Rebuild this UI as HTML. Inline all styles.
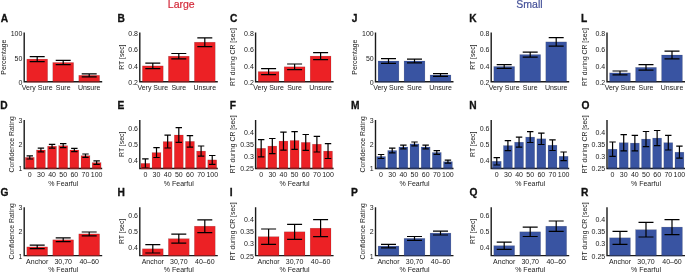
<!DOCTYPE html>
<html><head><meta charset="utf-8"><style>
html,body{margin:0;padding:0;background:#fff;}
svg{display:block;}
#w{width:685px;height:273px;will-change:transform;}
text{font-family:"Liberation Sans",sans-serif;font-size:7.0px;fill:#1a1a1a;}
text.L{font-weight:bold;font-size:10.2px;fill:#111;stroke:#111;stroke-width:0.3px;}
text.T{font-size:10.5px;}
</style></head><body>
<div id="w"><svg width="685" height="273" viewBox="0 0 685 273">
<rect width="685" height="273" fill="#fff"/>
<text class="T" x="181.3" y="7.8" text-anchor="middle" style="fill:#d42a3a;stroke:#d42a3a;stroke-width:0.2px">Large</text>
<text class="T" x="529.5" y="7.7" text-anchor="middle" style="fill:#465299;stroke:#465299;stroke-width:0.2px">Small</text>
<g><rect x="26.8" y="59.1" width="20.8" height="22.7" fill="#ec2125" stroke="#000" stroke-opacity="0.22" stroke-width="0.5"/><rect x="52.8" y="62.5" width="20.8" height="19.3" fill="#ec2125" stroke="#000" stroke-opacity="0.22" stroke-width="0.5"/><rect x="78.8" y="75.3" width="20.8" height="6.5" fill="#ec2125" stroke="#000" stroke-opacity="0.22" stroke-width="0.5"/><path d="M37.2 56.6V61.6M29.71 56.6H44.69M29.71 61.6H44.69" stroke="#000" stroke-width="1.2" fill="none"/><path d="M63.2 60.4V64.6M55.71 60.4H70.69M55.71 64.6H70.69" stroke="#000" stroke-width="1.2" fill="none"/><path d="M89.2 73.8V76.8M81.71 73.8H96.69M81.71 76.8H96.69" stroke="#000" stroke-width="1.2" fill="none"/><path d="M24.2 32.5V81.8H102.2" stroke="#1a1a1a" stroke-width="1.4" fill="none"/><rect x="26.8" y="81.1" width="20.8" height="1.4" fill="#ec2125" fill-opacity="0.5"/><rect x="52.8" y="81.1" width="20.8" height="1.4" fill="#ec2125" fill-opacity="0.5"/><rect x="78.8" y="81.1" width="20.8" height="1.4" fill="#ec2125" fill-opacity="0.5"/><text x="22.4" y="85.15" text-anchor="end">0</text><text x="22.4" y="60.5" text-anchor="end">50</text><text x="22.4" y="35.85" text-anchor="end">100</text><text x="37.2" y="90.4" text-anchor="middle">Very Sure</text><text x="63.2" y="90.4" text-anchor="middle">Sure</text><text x="89.2" y="90.4" text-anchor="middle">Unsure</text><text transform="translate(6.1 57.15) rotate(-90)" text-anchor="middle" style="font-size:6.85px">Percentage</text><text class="L" x="0.65" y="21.9">A</text></g>
<g><rect x="142.4" y="65.9" width="20.8" height="15.9" fill="#ec2125" stroke="#000" stroke-opacity="0.22" stroke-width="0.5"/><rect x="168.4" y="56.2" width="20.8" height="25.6" fill="#ec2125" stroke="#000" stroke-opacity="0.22" stroke-width="0.5"/><rect x="194.4" y="42.2" width="20.8" height="39.6" fill="#ec2125" stroke="#000" stroke-opacity="0.22" stroke-width="0.5"/><path d="M152.8 63.2V68.6M145.31 63.2H160.29M145.31 68.6H160.29" stroke="#000" stroke-width="1.2" fill="none"/><path d="M178.8 53.5V58.9M171.31 53.5H186.29M171.31 58.9H186.29" stroke="#000" stroke-width="1.2" fill="none"/><path d="M204.8 37.8V46.6M197.31 37.8H212.29M197.31 46.6H212.29" stroke="#000" stroke-width="1.2" fill="none"/><path d="M139.8 32.5V81.8H217.8" stroke="#1a1a1a" stroke-width="1.4" fill="none"/><rect x="142.4" y="81.1" width="20.8" height="1.4" fill="#ec2125" fill-opacity="0.5"/><rect x="168.4" y="81.1" width="20.8" height="1.4" fill="#ec2125" fill-opacity="0.5"/><rect x="194.4" y="81.1" width="20.8" height="1.4" fill="#ec2125" fill-opacity="0.5"/><text x="138" y="85.15" text-anchor="end">0.2</text><text x="138" y="68.72" text-anchor="end">0.4</text><text x="138" y="52.28" text-anchor="end">0.6</text><text x="138" y="35.85" text-anchor="end">0.8</text><text x="152.8" y="90.4" text-anchor="middle">Very Sure</text><text x="178.8" y="90.4" text-anchor="middle">Sure</text><text x="204.8" y="90.4" text-anchor="middle">Unsure</text><text transform="translate(124 57.15) rotate(-90)" text-anchor="middle" style="font-size:6.85px">RT [sec]</text><text class="L" x="117.52" y="21.9">B</text></g>
<g><rect x="258.2" y="71.6" width="20.8" height="10.2" fill="#ec2125" stroke="#000" stroke-opacity="0.22" stroke-width="0.5"/><rect x="284.2" y="66.8" width="20.8" height="15" fill="#ec2125" stroke="#000" stroke-opacity="0.22" stroke-width="0.5"/><rect x="310.2" y="56.1" width="20.8" height="25.7" fill="#ec2125" stroke="#000" stroke-opacity="0.22" stroke-width="0.5"/><path d="M268.6 68.6V74.6M261.11 68.6H276.09M261.11 74.6H276.09" stroke="#000" stroke-width="1.2" fill="none"/><path d="M294.6 64V69.6M287.11 64H302.09M287.11 69.6H302.09" stroke="#000" stroke-width="1.2" fill="none"/><path d="M320.6 52.6V59.6M313.11 52.6H328.09M313.11 59.6H328.09" stroke="#000" stroke-width="1.2" fill="none"/><path d="M255.6 32.5V81.8H333.6" stroke="#1a1a1a" stroke-width="1.4" fill="none"/><rect x="258.2" y="81.1" width="20.8" height="1.4" fill="#ec2125" fill-opacity="0.5"/><rect x="284.2" y="81.1" width="20.8" height="1.4" fill="#ec2125" fill-opacity="0.5"/><rect x="310.2" y="81.1" width="20.8" height="1.4" fill="#ec2125" fill-opacity="0.5"/><text x="253.8" y="85.15" text-anchor="end">0.2</text><text x="253.8" y="68.72" text-anchor="end">0.4</text><text x="253.8" y="52.28" text-anchor="end">0.6</text><text x="253.8" y="35.85" text-anchor="end">0.8</text><text x="268.6" y="90.4" text-anchor="middle">Very Sure</text><text x="294.6" y="90.4" text-anchor="middle">Sure</text><text x="320.6" y="90.4" text-anchor="middle">Unsure</text><text transform="translate(235.4 57.15) rotate(-90)" text-anchor="middle" style="font-size:6.85px">RT during CR [sec]</text><text class="L" x="229.98" y="21.9">C</text></g>
<g><rect x="378.1" y="61" width="20.8" height="20.8" fill="#3954a2" stroke="#000" stroke-opacity="0.22" stroke-width="0.5"/><rect x="404.1" y="61" width="20.8" height="20.8" fill="#3954a2" stroke="#000" stroke-opacity="0.22" stroke-width="0.5"/><rect x="430.1" y="75" width="20.8" height="6.8" fill="#3954a2" stroke="#000" stroke-opacity="0.22" stroke-width="0.5"/><path d="M388.5 58.7V63.3M381.01 58.7H395.99M381.01 63.3H395.99" stroke="#000" stroke-width="1.2" fill="none"/><path d="M414.5 59.1V62.9M407.01 59.1H421.99M407.01 62.9H421.99" stroke="#000" stroke-width="1.2" fill="none"/><path d="M440.5 73.7V76.3M433.01 73.7H447.99M433.01 76.3H447.99" stroke="#000" stroke-width="1.2" fill="none"/><path d="M375.5 32.5V81.8H453.5" stroke="#1a1a1a" stroke-width="1.4" fill="none"/><rect x="378.1" y="81.1" width="20.8" height="1.4" fill="#3954a2" fill-opacity="0.5"/><rect x="404.1" y="81.1" width="20.8" height="1.4" fill="#3954a2" fill-opacity="0.5"/><rect x="430.1" y="81.1" width="20.8" height="1.4" fill="#3954a2" fill-opacity="0.5"/><text x="373.7" y="85.15" text-anchor="end">0</text><text x="373.7" y="60.5" text-anchor="end">50</text><text x="373.7" y="35.85" text-anchor="end">100</text><text x="388.5" y="90.4" text-anchor="middle">Very Sure</text><text x="414.5" y="90.4" text-anchor="middle">Sure</text><text x="440.5" y="90.4" text-anchor="middle">Unsure</text><text transform="translate(357.4 57.15) rotate(-90)" text-anchor="middle" style="font-size:6.85px">Percentage</text><text class="L" x="351.65" y="21.9">J</text></g>
<g><rect x="493.8" y="66.5" width="20.8" height="15.3" fill="#3954a2" stroke="#000" stroke-opacity="0.22" stroke-width="0.5"/><rect x="519.8" y="54.6" width="20.8" height="27.2" fill="#3954a2" stroke="#000" stroke-opacity="0.22" stroke-width="0.5"/><rect x="545.8" y="41.9" width="20.8" height="39.9" fill="#3954a2" stroke="#000" stroke-opacity="0.22" stroke-width="0.5"/><path d="M504.2 64.6V68.4M496.71 64.6H511.69M496.71 68.4H511.69" stroke="#000" stroke-width="1.2" fill="none"/><path d="M530.2 52.1V57.1M522.71 52.1H537.69M522.71 57.1H537.69" stroke="#000" stroke-width="1.2" fill="none"/><path d="M556.2 37.7V46.1M548.71 37.7H563.69M548.71 46.1H563.69" stroke="#000" stroke-width="1.2" fill="none"/><path d="M491.2 32.5V81.8H569.2" stroke="#1a1a1a" stroke-width="1.4" fill="none"/><rect x="493.8" y="81.1" width="20.8" height="1.4" fill="#3954a2" fill-opacity="0.5"/><rect x="519.8" y="81.1" width="20.8" height="1.4" fill="#3954a2" fill-opacity="0.5"/><rect x="545.8" y="81.1" width="20.8" height="1.4" fill="#3954a2" fill-opacity="0.5"/><text x="489.4" y="85.15" text-anchor="end">0.2</text><text x="489.4" y="68.72" text-anchor="end">0.4</text><text x="489.4" y="52.28" text-anchor="end">0.6</text><text x="489.4" y="35.85" text-anchor="end">0.8</text><text x="504.2" y="90.4" text-anchor="middle">Very Sure</text><text x="530.2" y="90.4" text-anchor="middle">Sure</text><text x="556.2" y="90.4" text-anchor="middle">Unsure</text><text transform="translate(475.4 57.15) rotate(-90)" text-anchor="middle" style="font-size:6.85px">RT [sec]</text><text class="L" x="469.22" y="21.9">K</text></g>
<g><rect x="609.6" y="72.9" width="20.8" height="8.9" fill="#3954a2" stroke="#000" stroke-opacity="0.22" stroke-width="0.5"/><rect x="635.6" y="67.4" width="20.8" height="14.4" fill="#3954a2" stroke="#000" stroke-opacity="0.22" stroke-width="0.5"/><rect x="661.6" y="55" width="20.8" height="26.8" fill="#3954a2" stroke="#000" stroke-opacity="0.22" stroke-width="0.5"/><path d="M620 71V74.8M612.51 71H627.49M612.51 74.8H627.49" stroke="#000" stroke-width="1.2" fill="none"/><path d="M646 64.6V70.2M638.51 64.6H653.49M638.51 70.2H653.49" stroke="#000" stroke-width="1.2" fill="none"/><path d="M672 51.2V58.8M664.51 51.2H679.49M664.51 58.8H679.49" stroke="#000" stroke-width="1.2" fill="none"/><path d="M607 32.5V81.8H685" stroke="#1a1a1a" stroke-width="1.4" fill="none"/><rect x="609.6" y="81.1" width="20.8" height="1.4" fill="#3954a2" fill-opacity="0.5"/><rect x="635.6" y="81.1" width="20.8" height="1.4" fill="#3954a2" fill-opacity="0.5"/><rect x="661.6" y="81.1" width="20.8" height="1.4" fill="#3954a2" fill-opacity="0.5"/><text x="605.2" y="85.15" text-anchor="end">0.2</text><text x="605.2" y="68.72" text-anchor="end">0.4</text><text x="605.2" y="52.28" text-anchor="end">0.6</text><text x="605.2" y="35.85" text-anchor="end">0.8</text><text x="620" y="90.4" text-anchor="middle">Very Sure</text><text x="646" y="90.4" text-anchor="middle">Sure</text><text x="672" y="90.4" text-anchor="middle">Unsure</text><text transform="translate(586.8 57.15) rotate(-90)" text-anchor="middle" style="font-size:6.85px">RT during CR [sec]</text><text class="L" x="581.12" y="21.9">L</text></g>
<g><rect x="25.31" y="157.4" width="8.91" height="11.1" fill="#ec2125" stroke="#000" stroke-opacity="0.22" stroke-width="0.5"/><rect x="36.46" y="150" width="8.91" height="18.5" fill="#ec2125" stroke="#000" stroke-opacity="0.22" stroke-width="0.5"/><rect x="47.6" y="146.2" width="8.91" height="22.3" fill="#ec2125" stroke="#000" stroke-opacity="0.22" stroke-width="0.5"/><rect x="58.74" y="145.7" width="8.91" height="22.8" fill="#ec2125" stroke="#000" stroke-opacity="0.22" stroke-width="0.5"/><rect x="69.89" y="150" width="8.91" height="18.5" fill="#ec2125" stroke="#000" stroke-opacity="0.22" stroke-width="0.5"/><rect x="81.03" y="155.7" width="8.91" height="12.8" fill="#ec2125" stroke="#000" stroke-opacity="0.22" stroke-width="0.5"/><rect x="92.17" y="162.6" width="8.91" height="5.9" fill="#ec2125" stroke="#000" stroke-opacity="0.22" stroke-width="0.5"/><path d="M29.77 155.8V159M26.56 155.8H32.98M26.56 159H32.98" stroke="#000" stroke-width="1.2" fill="none"/><path d="M40.91 148.1V151.9M37.71 148.1H44.12M37.71 151.9H44.12" stroke="#000" stroke-width="1.2" fill="none"/><path d="M52.06 144.3V148.1M48.85 144.3H55.27M48.85 148.1H55.27" stroke="#000" stroke-width="1.2" fill="none"/><path d="M63.2 143.7V147.7M59.99 143.7H66.41M59.99 147.7H66.41" stroke="#000" stroke-width="1.2" fill="none"/><path d="M74.34 148.3V151.7M71.13 148.3H77.55M71.13 151.7H77.55" stroke="#000" stroke-width="1.2" fill="none"/><path d="M85.49 154V157.4M82.28 154H88.69M82.28 157.4H88.69" stroke="#000" stroke-width="1.2" fill="none"/><path d="M96.63 160.9V164.3M93.42 160.9H99.84M93.42 164.3H99.84" stroke="#000" stroke-width="1.2" fill="none"/><path d="M24.2 120.1V168.5H102.2" stroke="#1a1a1a" stroke-width="1.4" fill="none"/><rect x="25.31" y="167.8" width="8.91" height="1.4" fill="#ec2125" fill-opacity="0.5"/><rect x="36.46" y="167.8" width="8.91" height="1.4" fill="#ec2125" fill-opacity="0.5"/><rect x="47.6" y="167.8" width="8.91" height="1.4" fill="#ec2125" fill-opacity="0.5"/><rect x="58.74" y="167.8" width="8.91" height="1.4" fill="#ec2125" fill-opacity="0.5"/><rect x="69.89" y="167.8" width="8.91" height="1.4" fill="#ec2125" fill-opacity="0.5"/><rect x="81.03" y="167.8" width="8.91" height="1.4" fill="#ec2125" fill-opacity="0.5"/><rect x="92.17" y="167.8" width="8.91" height="1.4" fill="#ec2125" fill-opacity="0.5"/><text x="22.4" y="170.95" text-anchor="end">1</text><text x="22.4" y="146.75" text-anchor="end">2</text><text x="22.4" y="122.55" text-anchor="end">3</text><text x="29.77" y="177.1" text-anchor="middle">0</text><text x="40.91" y="177.1" text-anchor="middle">30</text><text x="52.06" y="177.1" text-anchor="middle">40</text><text x="63.2" y="177.1" text-anchor="middle">50</text><text x="74.34" y="177.1" text-anchor="middle">60</text><text x="85.49" y="177.1" text-anchor="middle">70</text><text x="96.63" y="177.1" text-anchor="middle">100</text><text x="63.2" y="185.6" text-anchor="middle">% Fearful</text><text transform="translate(13.8 144.3) rotate(-90)" text-anchor="middle" style="font-size:6.85px">Confidence Rating</text><text class="L" x="0.22" y="108.7">D</text></g>
<g><rect x="140.91" y="163.4" width="8.91" height="5.1" fill="#ec2125" stroke="#000" stroke-opacity="0.22" stroke-width="0.5"/><rect x="152.06" y="152.6" width="8.91" height="15.9" fill="#ec2125" stroke="#000" stroke-opacity="0.22" stroke-width="0.5"/><rect x="163.2" y="141.6" width="8.91" height="26.9" fill="#ec2125" stroke="#000" stroke-opacity="0.22" stroke-width="0.5"/><rect x="174.34" y="135" width="8.91" height="33.5" fill="#ec2125" stroke="#000" stroke-opacity="0.22" stroke-width="0.5"/><rect x="185.49" y="141.4" width="8.91" height="27.1" fill="#ec2125" stroke="#000" stroke-opacity="0.22" stroke-width="0.5"/><rect x="196.63" y="151.1" width="8.91" height="17.4" fill="#ec2125" stroke="#000" stroke-opacity="0.22" stroke-width="0.5"/><rect x="207.77" y="159.9" width="8.91" height="8.6" fill="#ec2125" stroke="#000" stroke-opacity="0.22" stroke-width="0.5"/><path d="M145.37 158.8V168M142.16 158.8H148.58M142.16 168H148.58" stroke="#000" stroke-width="1.2" fill="none"/><path d="M156.51 147.7V157.5M153.31 147.7H159.72M153.31 157.5H159.72" stroke="#000" stroke-width="1.2" fill="none"/><path d="M167.66 135.2V148M164.45 135.2H170.87M164.45 148H170.87" stroke="#000" stroke-width="1.2" fill="none"/><path d="M178.8 127.7V142.3M175.59 127.7H182.01M175.59 142.3H182.01" stroke="#000" stroke-width="1.2" fill="none"/><path d="M189.94 135.6V147.2M186.73 135.6H193.15M186.73 147.2H193.15" stroke="#000" stroke-width="1.2" fill="none"/><path d="M201.09 146V156.2M197.88 146H204.29M197.88 156.2H204.29" stroke="#000" stroke-width="1.2" fill="none"/><path d="M212.23 155.5V164.3M209.02 155.5H215.44M209.02 164.3H215.44" stroke="#000" stroke-width="1.2" fill="none"/><path d="M139.8 120.1V168.5H217.8" stroke="#1a1a1a" stroke-width="1.4" fill="none"/><rect x="140.91" y="167.8" width="8.91" height="1.4" fill="#ec2125" fill-opacity="0.5"/><rect x="152.06" y="167.8" width="8.91" height="1.4" fill="#ec2125" fill-opacity="0.5"/><rect x="163.2" y="167.8" width="8.91" height="1.4" fill="#ec2125" fill-opacity="0.5"/><rect x="174.34" y="167.8" width="8.91" height="1.4" fill="#ec2125" fill-opacity="0.5"/><rect x="185.49" y="167.8" width="8.91" height="1.4" fill="#ec2125" fill-opacity="0.5"/><rect x="196.63" y="167.8" width="8.91" height="1.4" fill="#ec2125" fill-opacity="0.5"/><rect x="207.77" y="167.8" width="8.91" height="1.4" fill="#ec2125" fill-opacity="0.5"/><text x="138" y="162.88" text-anchor="end">0.4</text><text x="138" y="146.75" text-anchor="end">0.5</text><text x="138" y="130.62" text-anchor="end">0.6</text><text x="145.37" y="177.1" text-anchor="middle">0</text><text x="156.51" y="177.1" text-anchor="middle">30</text><text x="167.66" y="177.1" text-anchor="middle">40</text><text x="178.8" y="177.1" text-anchor="middle">50</text><text x="189.94" y="177.1" text-anchor="middle">60</text><text x="201.09" y="177.1" text-anchor="middle">70</text><text x="212.23" y="177.1" text-anchor="middle">100</text><text x="178.8" y="185.6" text-anchor="middle">% Fearful</text><text transform="translate(124 144.3) rotate(-90)" text-anchor="middle" style="font-size:6.85px">RT [sec]</text><text class="L" x="117.52" y="108.7">E</text></g>
<g><rect x="256.71" y="148.3" width="8.91" height="20.2" fill="#ec2125" stroke="#000" stroke-opacity="0.22" stroke-width="0.5"/><rect x="267.86" y="146.1" width="8.91" height="22.4" fill="#ec2125" stroke="#000" stroke-opacity="0.22" stroke-width="0.5"/><rect x="279" y="141.1" width="8.91" height="27.4" fill="#ec2125" stroke="#000" stroke-opacity="0.22" stroke-width="0.5"/><rect x="290.14" y="140.5" width="8.91" height="28" fill="#ec2125" stroke="#000" stroke-opacity="0.22" stroke-width="0.5"/><rect x="301.29" y="142.4" width="8.91" height="26.1" fill="#ec2125" stroke="#000" stroke-opacity="0.22" stroke-width="0.5"/><rect x="312.43" y="144.2" width="8.91" height="24.3" fill="#ec2125" stroke="#000" stroke-opacity="0.22" stroke-width="0.5"/><rect x="323.57" y="151.1" width="8.91" height="17.4" fill="#ec2125" stroke="#000" stroke-opacity="0.22" stroke-width="0.5"/><path d="M261.17 139.7V156.9M257.96 139.7H264.38M257.96 156.9H264.38" stroke="#000" stroke-width="1.2" fill="none"/><path d="M272.31 138.5V153.7M269.11 138.5H275.52M269.11 153.7H275.52" stroke="#000" stroke-width="1.2" fill="none"/><path d="M283.46 132.1V150.1M280.25 132.1H286.67M280.25 150.1H286.67" stroke="#000" stroke-width="1.2" fill="none"/><path d="M294.6 131.6V149.4M291.39 131.6H297.81M291.39 149.4H297.81" stroke="#000" stroke-width="1.2" fill="none"/><path d="M305.74 134.5V150.3M302.53 134.5H308.95M302.53 150.3H308.95" stroke="#000" stroke-width="1.2" fill="none"/><path d="M316.89 136.4V152M313.68 136.4H320.09M313.68 152H320.09" stroke="#000" stroke-width="1.2" fill="none"/><path d="M328.03 143.7V158.5M324.82 143.7H331.24M324.82 158.5H331.24" stroke="#000" stroke-width="1.2" fill="none"/><path d="M255.6 120.1V168.5H333.6" stroke="#1a1a1a" stroke-width="1.4" fill="none"/><rect x="256.71" y="167.8" width="8.91" height="1.4" fill="#ec2125" fill-opacity="0.5"/><rect x="267.86" y="167.8" width="8.91" height="1.4" fill="#ec2125" fill-opacity="0.5"/><rect x="279" y="167.8" width="8.91" height="1.4" fill="#ec2125" fill-opacity="0.5"/><rect x="290.14" y="167.8" width="8.91" height="1.4" fill="#ec2125" fill-opacity="0.5"/><rect x="301.29" y="167.8" width="8.91" height="1.4" fill="#ec2125" fill-opacity="0.5"/><rect x="312.43" y="167.8" width="8.91" height="1.4" fill="#ec2125" fill-opacity="0.5"/><rect x="323.57" y="167.8" width="8.91" height="1.4" fill="#ec2125" fill-opacity="0.5"/><text x="253.8" y="170.95" text-anchor="end">0.25</text><text x="253.8" y="158.85" text-anchor="end">0.3</text><text x="253.8" y="146.75" text-anchor="end">0.35</text><text x="253.8" y="134.65" text-anchor="end">0.4</text><text x="261.17" y="177.1" text-anchor="middle">0</text><text x="272.31" y="177.1" text-anchor="middle">30</text><text x="283.46" y="177.1" text-anchor="middle">40</text><text x="294.6" y="177.1" text-anchor="middle">50</text><text x="305.74" y="177.1" text-anchor="middle">60</text><text x="316.89" y="177.1" text-anchor="middle">70</text><text x="328.03" y="177.1" text-anchor="middle">100</text><text x="294.6" y="185.6" text-anchor="middle">% Fearful</text><text transform="translate(235.4 144.3) rotate(-90)" text-anchor="middle" style="font-size:6.85px">RT during CR [sec]</text><text class="L" x="229.72" y="108.7">F</text></g>
<g><rect x="376.61" y="156.5" width="8.91" height="12" fill="#3954a2" stroke="#000" stroke-opacity="0.22" stroke-width="0.5"/><rect x="387.76" y="150.5" width="8.91" height="18" fill="#3954a2" stroke="#000" stroke-opacity="0.22" stroke-width="0.5"/><rect x="398.9" y="147" width="8.91" height="21.5" fill="#3954a2" stroke="#000" stroke-opacity="0.22" stroke-width="0.5"/><rect x="410.04" y="143.9" width="8.91" height="24.6" fill="#3954a2" stroke="#000" stroke-opacity="0.22" stroke-width="0.5"/><rect x="421.19" y="147" width="8.91" height="21.5" fill="#3954a2" stroke="#000" stroke-opacity="0.22" stroke-width="0.5"/><rect x="432.33" y="152.5" width="8.91" height="16" fill="#3954a2" stroke="#000" stroke-opacity="0.22" stroke-width="0.5"/><rect x="443.47" y="161.7" width="8.91" height="6.8" fill="#3954a2" stroke="#000" stroke-opacity="0.22" stroke-width="0.5"/><path d="M381.07 154.5V158.5M377.86 154.5H384.28M377.86 158.5H384.28" stroke="#000" stroke-width="1.2" fill="none"/><path d="M392.21 148.2V152.8M389.01 148.2H395.42M389.01 152.8H395.42" stroke="#000" stroke-width="1.2" fill="none"/><path d="M403.36 145.1V148.9M400.15 145.1H406.57M400.15 148.9H406.57" stroke="#000" stroke-width="1.2" fill="none"/><path d="M414.5 142V145.8M411.29 142H417.71M411.29 145.8H417.71" stroke="#000" stroke-width="1.2" fill="none"/><path d="M425.64 145.1V148.9M422.43 145.1H428.85M422.43 148.9H428.85" stroke="#000" stroke-width="1.2" fill="none"/><path d="M436.79 150.6V154.4M433.58 150.6H439.99M433.58 154.4H439.99" stroke="#000" stroke-width="1.2" fill="none"/><path d="M447.93 160.2V163.2M444.72 160.2H451.14M444.72 163.2H451.14" stroke="#000" stroke-width="1.2" fill="none"/><path d="M375.5 120.1V168.5H453.5" stroke="#1a1a1a" stroke-width="1.4" fill="none"/><rect x="376.61" y="167.8" width="8.91" height="1.4" fill="#3954a2" fill-opacity="0.5"/><rect x="387.76" y="167.8" width="8.91" height="1.4" fill="#3954a2" fill-opacity="0.5"/><rect x="398.9" y="167.8" width="8.91" height="1.4" fill="#3954a2" fill-opacity="0.5"/><rect x="410.04" y="167.8" width="8.91" height="1.4" fill="#3954a2" fill-opacity="0.5"/><rect x="421.19" y="167.8" width="8.91" height="1.4" fill="#3954a2" fill-opacity="0.5"/><rect x="432.33" y="167.8" width="8.91" height="1.4" fill="#3954a2" fill-opacity="0.5"/><rect x="443.47" y="167.8" width="8.91" height="1.4" fill="#3954a2" fill-opacity="0.5"/><text x="373.7" y="170.95" text-anchor="end">1</text><text x="373.7" y="146.75" text-anchor="end">2</text><text x="373.7" y="122.55" text-anchor="end">3</text><text x="381.07" y="177.1" text-anchor="middle">0</text><text x="392.21" y="177.1" text-anchor="middle">30</text><text x="403.36" y="177.1" text-anchor="middle">40</text><text x="414.5" y="177.1" text-anchor="middle">50</text><text x="425.64" y="177.1" text-anchor="middle">60</text><text x="436.79" y="177.1" text-anchor="middle">70</text><text x="447.93" y="177.1" text-anchor="middle">100</text><text x="414.5" y="185.6" text-anchor="middle">% Fearful</text><text transform="translate(365.1 144.3) rotate(-90)" text-anchor="middle" style="font-size:6.85px">Confidence Rating</text><text class="L" x="351.12" y="108.7">M</text></g>
<g><rect x="492.31" y="161.3" width="8.91" height="7.2" fill="#3954a2" stroke="#000" stroke-opacity="0.22" stroke-width="0.5"/><rect x="503.46" y="145.6" width="8.91" height="22.9" fill="#3954a2" stroke="#000" stroke-opacity="0.22" stroke-width="0.5"/><rect x="514.6" y="142.2" width="8.91" height="26.3" fill="#3954a2" stroke="#000" stroke-opacity="0.22" stroke-width="0.5"/><rect x="525.74" y="137.1" width="8.91" height="31.4" fill="#3954a2" stroke="#000" stroke-opacity="0.22" stroke-width="0.5"/><rect x="536.89" y="138.8" width="8.91" height="29.7" fill="#3954a2" stroke="#000" stroke-opacity="0.22" stroke-width="0.5"/><rect x="548.03" y="145.2" width="8.91" height="23.3" fill="#3954a2" stroke="#000" stroke-opacity="0.22" stroke-width="0.5"/><rect x="559.17" y="156.3" width="8.91" height="12.2" fill="#3954a2" stroke="#000" stroke-opacity="0.22" stroke-width="0.5"/><path d="M496.77 157.6V165M493.56 157.6H499.98M493.56 165H499.98" stroke="#000" stroke-width="1.2" fill="none"/><path d="M507.91 140.6V150.6M504.71 140.6H511.12M504.71 150.6H511.12" stroke="#000" stroke-width="1.2" fill="none"/><path d="M519.06 137.2V147.2M515.85 137.2H522.27M515.85 147.2H522.27" stroke="#000" stroke-width="1.2" fill="none"/><path d="M530.2 131.7V142.5M526.99 131.7H533.41M526.99 142.5H533.41" stroke="#000" stroke-width="1.2" fill="none"/><path d="M541.34 133.1V144.5M538.13 133.1H544.55M538.13 144.5H544.55" stroke="#000" stroke-width="1.2" fill="none"/><path d="M552.49 139.9V150.5M549.28 139.9H555.69M549.28 150.5H555.69" stroke="#000" stroke-width="1.2" fill="none"/><path d="M563.63 152V160.6M560.42 152H566.84M560.42 160.6H566.84" stroke="#000" stroke-width="1.2" fill="none"/><path d="M491.2 120.1V168.5H569.2" stroke="#1a1a1a" stroke-width="1.4" fill="none"/><rect x="492.31" y="167.8" width="8.91" height="1.4" fill="#3954a2" fill-opacity="0.5"/><rect x="503.46" y="167.8" width="8.91" height="1.4" fill="#3954a2" fill-opacity="0.5"/><rect x="514.6" y="167.8" width="8.91" height="1.4" fill="#3954a2" fill-opacity="0.5"/><rect x="525.74" y="167.8" width="8.91" height="1.4" fill="#3954a2" fill-opacity="0.5"/><rect x="536.89" y="167.8" width="8.91" height="1.4" fill="#3954a2" fill-opacity="0.5"/><rect x="548.03" y="167.8" width="8.91" height="1.4" fill="#3954a2" fill-opacity="0.5"/><rect x="559.17" y="167.8" width="8.91" height="1.4" fill="#3954a2" fill-opacity="0.5"/><text x="489.4" y="162.88" text-anchor="end">0.4</text><text x="489.4" y="146.75" text-anchor="end">0.5</text><text x="489.4" y="130.62" text-anchor="end">0.6</text><text x="496.77" y="177.1" text-anchor="middle">0</text><text x="507.91" y="177.1" text-anchor="middle">30</text><text x="519.06" y="177.1" text-anchor="middle">40</text><text x="530.2" y="177.1" text-anchor="middle">50</text><text x="541.34" y="177.1" text-anchor="middle">60</text><text x="552.49" y="177.1" text-anchor="middle">70</text><text x="563.63" y="177.1" text-anchor="middle">100</text><text x="530.2" y="185.6" text-anchor="middle">% Fearful</text><text transform="translate(475.4 144.3) rotate(-90)" text-anchor="middle" style="font-size:6.85px">RT [sec]</text><text class="L" x="469.22" y="108.7">N</text></g>
<g><rect x="608.11" y="149.2" width="8.91" height="19.3" fill="#3954a2" stroke="#000" stroke-opacity="0.22" stroke-width="0.5"/><rect x="619.26" y="142.7" width="8.91" height="25.8" fill="#3954a2" stroke="#000" stroke-opacity="0.22" stroke-width="0.5"/><rect x="630.4" y="143.1" width="8.91" height="25.4" fill="#3954a2" stroke="#000" stroke-opacity="0.22" stroke-width="0.5"/><rect x="641.54" y="139.1" width="8.91" height="29.4" fill="#3954a2" stroke="#000" stroke-opacity="0.22" stroke-width="0.5"/><rect x="652.69" y="138.1" width="8.91" height="30.4" fill="#3954a2" stroke="#000" stroke-opacity="0.22" stroke-width="0.5"/><rect x="663.83" y="142.7" width="8.91" height="25.8" fill="#3954a2" stroke="#000" stroke-opacity="0.22" stroke-width="0.5"/><rect x="674.97" y="152.2" width="8.91" height="16.3" fill="#3954a2" stroke="#000" stroke-opacity="0.22" stroke-width="0.5"/><path d="M612.57 142V156.4M609.36 142H615.78M609.36 156.4H615.78" stroke="#000" stroke-width="1.2" fill="none"/><path d="M623.71 134.6V150.8M620.51 134.6H626.92M620.51 150.8H626.92" stroke="#000" stroke-width="1.2" fill="none"/><path d="M634.86 135.3V150.9M631.65 135.3H638.07M631.65 150.9H638.07" stroke="#000" stroke-width="1.2" fill="none"/><path d="M646 131.5V146.7M642.79 131.5H649.21M642.79 146.7H649.21" stroke="#000" stroke-width="1.2" fill="none"/><path d="M657.14 130.5V145.7M653.93 130.5H660.35M653.93 145.7H660.35" stroke="#000" stroke-width="1.2" fill="none"/><path d="M668.29 135.4V150M665.08 135.4H671.49M665.08 150H671.49" stroke="#000" stroke-width="1.2" fill="none"/><path d="M679.43 146.2V158.2M676.22 146.2H682.64M676.22 158.2H682.64" stroke="#000" stroke-width="1.2" fill="none"/><path d="M607 120.1V168.5H685" stroke="#1a1a1a" stroke-width="1.4" fill="none"/><rect x="608.11" y="167.8" width="8.91" height="1.4" fill="#3954a2" fill-opacity="0.5"/><rect x="619.26" y="167.8" width="8.91" height="1.4" fill="#3954a2" fill-opacity="0.5"/><rect x="630.4" y="167.8" width="8.91" height="1.4" fill="#3954a2" fill-opacity="0.5"/><rect x="641.54" y="167.8" width="8.91" height="1.4" fill="#3954a2" fill-opacity="0.5"/><rect x="652.69" y="167.8" width="8.91" height="1.4" fill="#3954a2" fill-opacity="0.5"/><rect x="663.83" y="167.8" width="8.91" height="1.4" fill="#3954a2" fill-opacity="0.5"/><rect x="674.97" y="167.8" width="8.91" height="1.4" fill="#3954a2" fill-opacity="0.5"/><text x="605.2" y="170.95" text-anchor="end">0.25</text><text x="605.2" y="158.85" text-anchor="end">0.3</text><text x="605.2" y="146.75" text-anchor="end">0.35</text><text x="605.2" y="134.65" text-anchor="end">0.4</text><text x="612.57" y="177.1" text-anchor="middle">0</text><text x="623.71" y="177.1" text-anchor="middle">30</text><text x="634.86" y="177.1" text-anchor="middle">40</text><text x="646" y="177.1" text-anchor="middle">50</text><text x="657.14" y="177.1" text-anchor="middle">60</text><text x="668.29" y="177.1" text-anchor="middle">70</text><text x="679.43" y="177.1" text-anchor="middle">100</text><text x="646" y="185.6" text-anchor="middle">% Fearful</text><text transform="translate(586.8 144.3) rotate(-90)" text-anchor="middle" style="font-size:6.85px">RT during CR [sec]</text><text class="L" x="581.38" y="108.7">O</text></g>
<g><rect x="26.8" y="246.9" width="20.8" height="8.7" fill="#ec2125" stroke="#000" stroke-opacity="0.22" stroke-width="0.5"/><rect x="52.8" y="239.8" width="20.8" height="15.8" fill="#ec2125" stroke="#000" stroke-opacity="0.22" stroke-width="0.5"/><rect x="78.8" y="233.9" width="20.8" height="21.7" fill="#ec2125" stroke="#000" stroke-opacity="0.22" stroke-width="0.5"/><path d="M37.2 245.2V248.6M29.71 245.2H44.69M29.71 248.6H44.69" stroke="#000" stroke-width="1.2" fill="none"/><path d="M63.2 237.9V241.7M55.71 237.9H70.69M55.71 241.7H70.69" stroke="#000" stroke-width="1.2" fill="none"/><path d="M89.2 232V235.8M81.71 232H96.69M81.71 235.8H96.69" stroke="#000" stroke-width="1.2" fill="none"/><path d="M24.2 207.2V255.6H102.2" stroke="#1a1a1a" stroke-width="1.4" fill="none"/><rect x="26.8" y="254.9" width="20.8" height="1.4" fill="#ec2125" fill-opacity="0.5"/><rect x="52.8" y="254.9" width="20.8" height="1.4" fill="#ec2125" fill-opacity="0.5"/><rect x="78.8" y="254.9" width="20.8" height="1.4" fill="#ec2125" fill-opacity="0.5"/><text x="22.4" y="258.55" text-anchor="end">1</text><text x="22.4" y="234.35" text-anchor="end">2</text><text x="22.4" y="210.15" text-anchor="end">3</text><text x="37.2" y="264.3" text-anchor="middle">Anchor</text><text x="63.2" y="264.3" text-anchor="middle">30,70</text><text x="89.2" y="264.3" text-anchor="middle">40–60</text><text x="63.2" y="272.4" text-anchor="middle">% Fearful</text><text transform="translate(13.8 231.4) rotate(-90)" text-anchor="middle" style="font-size:6.85px">Confidence Rating</text><text class="L" x="0.48" y="195.9">G</text></g>
<g><rect x="142.4" y="248.8" width="20.8" height="6.8" fill="#ec2125" stroke="#000" stroke-opacity="0.22" stroke-width="0.5"/><rect x="168.4" y="238.7" width="20.8" height="16.9" fill="#ec2125" stroke="#000" stroke-opacity="0.22" stroke-width="0.5"/><rect x="194.4" y="226.2" width="20.8" height="29.4" fill="#ec2125" stroke="#000" stroke-opacity="0.22" stroke-width="0.5"/><path d="M152.8 244.6V253M145.31 244.6H160.29M145.31 253H160.29" stroke="#000" stroke-width="1.2" fill="none"/><path d="M178.8 234.2V243.2M171.31 234.2H186.29M171.31 243.2H186.29" stroke="#000" stroke-width="1.2" fill="none"/><path d="M204.8 219.8V232.6M197.31 219.8H212.29M197.31 232.6H212.29" stroke="#000" stroke-width="1.2" fill="none"/><path d="M139.8 207.2V255.6H217.8" stroke="#1a1a1a" stroke-width="1.4" fill="none"/><rect x="142.4" y="254.9" width="20.8" height="1.4" fill="#ec2125" fill-opacity="0.5"/><rect x="168.4" y="254.9" width="20.8" height="1.4" fill="#ec2125" fill-opacity="0.5"/><rect x="194.4" y="254.9" width="20.8" height="1.4" fill="#ec2125" fill-opacity="0.5"/><text x="138" y="250.48" text-anchor="end">0.4</text><text x="138" y="234.35" text-anchor="end">0.5</text><text x="138" y="218.22" text-anchor="end">0.6</text><text x="152.8" y="264.3" text-anchor="middle">Anchor</text><text x="178.8" y="264.3" text-anchor="middle">30,70</text><text x="204.8" y="264.3" text-anchor="middle">40–60</text><text x="178.8" y="272.4" text-anchor="middle">% Fearful</text><text transform="translate(124 231.4) rotate(-90)" text-anchor="middle" style="font-size:6.85px">RT [sec]</text><text class="L" x="117.52" y="195.9">H</text></g>
<g><rect x="258.2" y="236.7" width="20.8" height="18.9" fill="#ec2125" stroke="#000" stroke-opacity="0.22" stroke-width="0.5"/><rect x="284.2" y="231.8" width="20.8" height="23.8" fill="#ec2125" stroke="#000" stroke-opacity="0.22" stroke-width="0.5"/><rect x="310.2" y="228.2" width="20.8" height="27.4" fill="#ec2125" stroke="#000" stroke-opacity="0.22" stroke-width="0.5"/><path d="M268.6 229V244.4M261.11 229H276.09M261.11 244.4H276.09" stroke="#000" stroke-width="1.2" fill="none"/><path d="M294.6 224.3V239.3M287.11 224.3H302.09M287.11 239.3H302.09" stroke="#000" stroke-width="1.2" fill="none"/><path d="M320.6 219.7V236.7M313.11 219.7H328.09M313.11 236.7H328.09" stroke="#000" stroke-width="1.2" fill="none"/><path d="M255.6 207.2V255.6H333.6" stroke="#1a1a1a" stroke-width="1.4" fill="none"/><rect x="258.2" y="254.9" width="20.8" height="1.4" fill="#ec2125" fill-opacity="0.5"/><rect x="284.2" y="254.9" width="20.8" height="1.4" fill="#ec2125" fill-opacity="0.5"/><rect x="310.2" y="254.9" width="20.8" height="1.4" fill="#ec2125" fill-opacity="0.5"/><text x="253.8" y="258.55" text-anchor="end">0.25</text><text x="253.8" y="246.45" text-anchor="end">0.3</text><text x="253.8" y="234.35" text-anchor="end">0.35</text><text x="253.8" y="222.25" text-anchor="end">0.4</text><text x="268.6" y="264.3" text-anchor="middle">Anchor</text><text x="294.6" y="264.3" text-anchor="middle">30,70</text><text x="320.6" y="264.3" text-anchor="middle">40–60</text><text x="294.6" y="272.4" text-anchor="middle">% Fearful</text><text transform="translate(235.4 231.4) rotate(-90)" text-anchor="middle" style="font-size:6.85px">RT during CR [sec]</text><text class="L" x="229.72" y="195.9">I</text></g>
<g><rect x="378.1" y="246.1" width="20.8" height="9.5" fill="#3954a2" stroke="#000" stroke-opacity="0.22" stroke-width="0.5"/><rect x="404.1" y="238.4" width="20.8" height="17.2" fill="#3954a2" stroke="#000" stroke-opacity="0.22" stroke-width="0.5"/><rect x="430.1" y="233.1" width="20.8" height="22.5" fill="#3954a2" stroke="#000" stroke-opacity="0.22" stroke-width="0.5"/><path d="M388.5 244.4V247.8M381.01 244.4H395.99M381.01 247.8H395.99" stroke="#000" stroke-width="1.2" fill="none"/><path d="M414.5 236.5V240.3M407.01 236.5H421.99M407.01 240.3H421.99" stroke="#000" stroke-width="1.2" fill="none"/><path d="M440.5 231.2V235M433.01 231.2H447.99M433.01 235H447.99" stroke="#000" stroke-width="1.2" fill="none"/><path d="M375.5 207.2V255.6H453.5" stroke="#1a1a1a" stroke-width="1.4" fill="none"/><rect x="378.1" y="254.9" width="20.8" height="1.4" fill="#3954a2" fill-opacity="0.5"/><rect x="404.1" y="254.9" width="20.8" height="1.4" fill="#3954a2" fill-opacity="0.5"/><rect x="430.1" y="254.9" width="20.8" height="1.4" fill="#3954a2" fill-opacity="0.5"/><text x="373.7" y="258.55" text-anchor="end">1</text><text x="373.7" y="234.35" text-anchor="end">2</text><text x="373.7" y="210.15" text-anchor="end">3</text><text x="388.5" y="264.3" text-anchor="middle">Anchor</text><text x="414.5" y="264.3" text-anchor="middle">30,70</text><text x="440.5" y="264.3" text-anchor="middle">40–60</text><text x="414.5" y="272.4" text-anchor="middle">% Fearful</text><text transform="translate(365.1 231.4) rotate(-90)" text-anchor="middle" style="font-size:6.85px">Confidence Rating</text><text class="L" x="351.12" y="195.9">P</text></g>
<g><rect x="493.8" y="245.7" width="20.8" height="9.9" fill="#3954a2" stroke="#000" stroke-opacity="0.22" stroke-width="0.5"/><rect x="519.8" y="231.8" width="20.8" height="23.8" fill="#3954a2" stroke="#000" stroke-opacity="0.22" stroke-width="0.5"/><rect x="545.8" y="226.2" width="20.8" height="29.4" fill="#3954a2" stroke="#000" stroke-opacity="0.22" stroke-width="0.5"/><path d="M504.2 242.1V249.3M496.71 242.1H511.69M496.71 249.3H511.69" stroke="#000" stroke-width="1.2" fill="none"/><path d="M530.2 227.1V236.5M522.71 227.1H537.69M522.71 236.5H537.69" stroke="#000" stroke-width="1.2" fill="none"/><path d="M556.2 221V231.4M548.71 221H563.69M548.71 231.4H563.69" stroke="#000" stroke-width="1.2" fill="none"/><path d="M491.2 207.2V255.6H569.2" stroke="#1a1a1a" stroke-width="1.4" fill="none"/><rect x="493.8" y="254.9" width="20.8" height="1.4" fill="#3954a2" fill-opacity="0.5"/><rect x="519.8" y="254.9" width="20.8" height="1.4" fill="#3954a2" fill-opacity="0.5"/><rect x="545.8" y="254.9" width="20.8" height="1.4" fill="#3954a2" fill-opacity="0.5"/><text x="489.4" y="250.48" text-anchor="end">0.4</text><text x="489.4" y="234.35" text-anchor="end">0.5</text><text x="489.4" y="218.22" text-anchor="end">0.6</text><text x="504.2" y="264.3" text-anchor="middle">Anchor</text><text x="530.2" y="264.3" text-anchor="middle">30,70</text><text x="556.2" y="264.3" text-anchor="middle">40–60</text><text x="530.2" y="272.4" text-anchor="middle">% Fearful</text><text transform="translate(475.4 231.4) rotate(-90)" text-anchor="middle" style="font-size:6.85px">RT [sec]</text><text class="L" x="469.48" y="195.9">Q</text></g>
<g><rect x="609.6" y="237.8" width="20.8" height="17.8" fill="#3954a2" stroke="#000" stroke-opacity="0.22" stroke-width="0.5"/><rect x="635.6" y="229.7" width="20.8" height="25.9" fill="#3954a2" stroke="#000" stroke-opacity="0.22" stroke-width="0.5"/><rect x="661.6" y="227.1" width="20.8" height="28.5" fill="#3954a2" stroke="#000" stroke-opacity="0.22" stroke-width="0.5"/><path d="M620 231.3V244.3M612.51 231.3H627.49M612.51 244.3H627.49" stroke="#000" stroke-width="1.2" fill="none"/><path d="M646 222.4V237M638.51 222.4H653.49M638.51 237H653.49" stroke="#000" stroke-width="1.2" fill="none"/><path d="M672 219.6V234.6M664.51 219.6H679.49M664.51 234.6H679.49" stroke="#000" stroke-width="1.2" fill="none"/><path d="M607 207.2V255.6H685" stroke="#1a1a1a" stroke-width="1.4" fill="none"/><rect x="609.6" y="254.9" width="20.8" height="1.4" fill="#3954a2" fill-opacity="0.5"/><rect x="635.6" y="254.9" width="20.8" height="1.4" fill="#3954a2" fill-opacity="0.5"/><rect x="661.6" y="254.9" width="20.8" height="1.4" fill="#3954a2" fill-opacity="0.5"/><text x="605.2" y="258.55" text-anchor="end">0.25</text><text x="605.2" y="246.45" text-anchor="end">0.3</text><text x="605.2" y="234.35" text-anchor="end">0.35</text><text x="605.2" y="222.25" text-anchor="end">0.4</text><text x="620" y="264.3" text-anchor="middle">Anchor</text><text x="646" y="264.3" text-anchor="middle">30,70</text><text x="672" y="264.3" text-anchor="middle">40–60</text><text x="646" y="272.4" text-anchor="middle">% Fearful</text><text transform="translate(586.8 231.4) rotate(-90)" text-anchor="middle" style="font-size:6.85px">RT during CR [sec]</text><text class="L" x="581.12" y="195.9">R</text></g>
</svg></div>
</body></html>
